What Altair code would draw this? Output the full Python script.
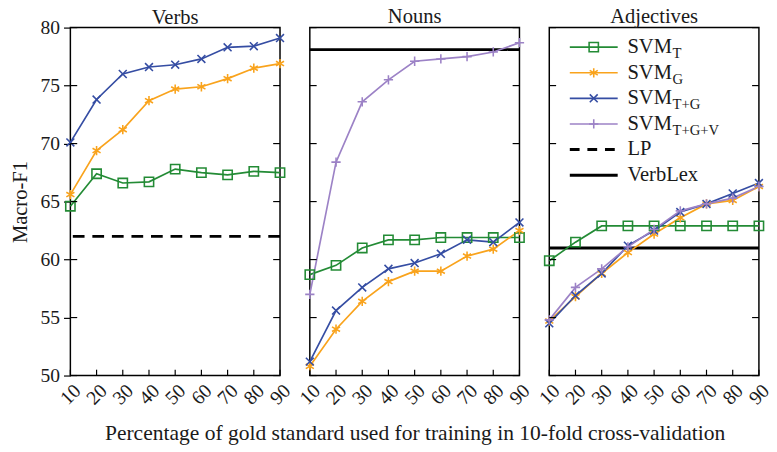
import altair as alt
import pandas as pd

# ---------------- data ----------------
x_pct = [10, 20, 30, 40, 50, 60, 70, 80, 90]
panels = ["Verbs", "Nouns", "Adjectives"]
series_names = ["SVM_T", "SVM_G", "SVM_T+G", "SVM_T+G+V"]

verbs_T = [64.6, 67.4, 66.6, 66.7, 67.8, 67.5, 67.3, 67.6, 67.5]
verbs_G = [65.6, 69.4, 71.2, 73.7, 74.7, 74.9, 75.6, 76.5, 76.9]
verbs_TG = [70.1, 73.8, 76.0, 76.6, 76.8, 77.3, 78.3, 78.4, 79.1]

nouns_T = [58.7, 59.5, 61.0, 61.7, 61.7, 61.9, 61.9, 61.9, 61.9]
nouns_G = [50.8, 54.0, 56.4, 58.1, 59.0, 59.0, 60.3, 60.9, 62.5]
nouns_TG = [51.2, 55.6, 57.6, 59.2, 59.7, 60.5, 61.7, 61.5, 63.2]
nouns_TGV = [57.0, 68.4, 73.6, 75.5, 77.1, 77.3, 77.5, 77.9, 78.7]

adj_T = [59.9, 61.5, 62.9, 62.9, 62.9, 62.9, 62.9, 62.9, 62.9]
adj_G = [54.7, 56.8, 58.8, 60.6, 62.2, 63.6, 64.8, 65.1, 66.3]
adj_TG = [54.5, 56.9, 58.8, 61.2, 62.5, 64.1, 64.8, 65.7, 66.6]
adj_TGV = [54.8, 57.6, 59.2, 61.1, 62.6, 64.2, 64.8, 65.3, 66.3]

lp_verbs = 62.0
verblex_nouns = 78.1
verblex_adj = 61.0

y_ticks = [50, 55, 60, 65, 70, 75, 80]

legend_base = ["SVM", "SVM", "SVM", "SVM", "LP", "VerbLex"]
legend_sub = ["T", "G", "T+G", "T+G+V", "", ""]

x_title = "Percentage of gold standard used for training in 10-fold cross-validation"
y_title = "Macro-F1"

# ---------------- tables ----------------
series_data = {
    "Verbs": {"SVM_T": verbs_T, "SVM_G": verbs_G, "SVM_T+G": verbs_TG},
    "Nouns": {"SVM_T": nouns_T, "SVM_G": nouns_G, "SVM_T+G": nouns_TG, "SVM_T+G+V": nouns_TGV},
    "Adjectives": {"SVM_T": adj_T, "SVM_G": adj_G, "SVM_T+G": adj_TG, "SVM_T+G+V": adj_TGV},
}
rows = []
for p, sd in series_data.items():
    for s, vals in sd.items():
        for xv, yv in zip(x_pct, vals):
            rows.append({"panel": p, "series": s, "x": xv, "y": yv})
df = pd.DataFrame(rows)

ref_rows = [
    {"panel": "Verbs", "kind": "LP", "y": lp_verbs},
    {"panel": "Nouns", "kind": "VerbLex", "y": verblex_nouns},
    {"panel": "Adjectives", "kind": "VerbLex", "y": verblex_adj},
]
ref_df = pd.DataFrame(ref_rows)
ytick_df = pd.DataFrame({"y": y_ticks})
xtick_df = pd.DataFrame({"x": x_pct})

# ---------------- style ----------------
W, H = 214.5, 356
FONT = "Liberation Serif"
TXT = "#1a1a1a"
colors = ["#238b35", "#f9a31c", "#354da3", "#9c82c6"]
shape_square = "square"
shape_aster = "M0,-1L0,1M-0.87,-0.5L0.87,0.5M-0.87,0.5L0.87,-0.5"
shape_x = "M-0.85,-0.85L0.85,0.85M-0.85,0.85L0.85,-0.85"
shape_plus = "M-1,0L1,0M0,-1L0,1"
shapes = [shape_square, shape_aster, shape_x, shape_plus]

xscale = alt.Scale(domain=[10, 90], nice=False, zero=False)
yscale = alt.Scale(domain=[50, 80], nice=False, zero=False)
dummy = alt.Data(values=[{"a": 1}])


def panel(name, first, middle, with_legend):
    xaxis_kw = dict(values=x_pct, labelAngle=-45, ticks=False, domain=False, grid=False,
                    labelOverlap=False, labelFlush=False, labelBound=False,
                    labelFont=FONT, labelFontSize=20, labelColor=TXT, labelPadding=5,
                    titleFont=FONT, titleFontSize=22, titleFontWeight="normal",
                    titleColor=TXT, titlePadding=15, title=(x_title if middle else ""))
    X = alt.X("x:Q", scale=xscale, axis=alt.Axis(**xaxis_kw))
    if first:
        Y = alt.Y("y:Q", scale=yscale,
                  axis=alt.Axis(values=y_ticks, ticks=True, tickSize=7, tickColor="black",
                                tickWidth=1.2, domain=False, grid=False,
                                labelOverlap=False, labelFlush=False, labelBound=False,
                                labelFont=FONT, labelFontSize=20, labelColor=TXT,
                                labelPadding=4, title=y_title, titleFont=FONT,
                                titleFontSize=21, titleFontWeight="normal",
                                titleColor=TXT, titlePadding=10))
    else:
        Y = alt.Y("y:Q", scale=yscale, axis=None)

    d = df[df.panel == name]
    color = alt.Color("series:N", scale=alt.Scale(domain=series_names, range=colors), legend=None)
    shape = alt.Shape("series:N", scale=alt.Scale(domain=series_names, range=shapes), legend=None)

    layers = []
    r = ref_df[ref_df.panel == name]
    for _, row in r.iterrows():
        dash = [12, 8] if row["kind"] == "LP" else [1, 0]
        layers.append(alt.Chart(pd.DataFrame([row])).mark_rule(
            color="black", strokeWidth=3, strokeDash=dash).encode(y=Y))

    layers.append(alt.Chart(d).mark_line(strokeWidth=1.7).encode(
        x=X, y=Y, color=color, order="x:Q"))
    layers.append(alt.Chart(d).mark_point(filled=False, size=90, strokeWidth=1.6, opacity=1).encode(
        x=X, y=Y, color=color, shape=shape))

    # inward ticks
    layers.append(alt.Chart(ytick_df).mark_rule(color="black", strokeWidth=1.2).encode(
        y=Y, x=alt.value(0), x2=alt.value(7)))
    layers.append(alt.Chart(ytick_df).mark_rule(color="black", strokeWidth=1.2).encode(
        y=Y, x=alt.value(W - 7), x2=alt.value(W)))
    layers.append(alt.Chart(xtick_df).mark_rule(color="black", strokeWidth=1.2).encode(
        x=X, y=alt.value(H - 6), y2=alt.value(H)))

    if with_legend:
        step = 26.2
        y0 = 20
        for i, (base, sub) in enumerate(zip(legend_base, legend_sub)):
            ry = y0 + step * i
            if i < 4:
                layers.append(alt.Chart(dummy).mark_rule(color=colors[i], strokeWidth=1.7).encode(
                    x=alt.value(21), x2=alt.value(70), y=alt.value(ry)))
                layers.append(alt.Chart(dummy).mark_point(
                    shape=shapes[i], filled=False, size=90, strokeWidth=1.6,
                    color=colors[i], opacity=1).encode(x=alt.value(45.5), y=alt.value(ry)))
            else:
                dash = [10, 8] if base == "LP" else [1, 0]
                layers.append(alt.Chart(dummy).mark_rule(color="black", strokeWidth=3,
                                                         strokeDash=dash).encode(
                    x=alt.value(21), x2=alt.value(70), y=alt.value(ry)))
            layers.append(alt.Chart(dummy).mark_text(
                align="left", baseline="middle", font=FONT, fontSize=21, color=TXT).encode(
                x=alt.value(80), y=alt.value(ry), text=alt.value(base)))
            if sub:
                layers.append(alt.Chart(dummy).mark_text(
                    align="left", baseline="middle", font=FONT, fontSize=15, color=TXT).encode(
                    x=alt.value(80 + 46), y=alt.value(ry + 6), text=alt.value(sub)))

    return alt.layer(*layers).properties(
        width=W, height=H,
        view=alt.ViewBackground(stroke="black", strokeWidth=1.5),
        title=alt.TitleParams(text=name, font=FONT, fontSize=21, fontWeight="normal",
                              color=TXT, offset=0, dy=(10 if first else 0)))


chart = alt.hconcat(
    panel("Verbs", True, False, False),
    panel("Nouns", False, True, False),
    panel("Adjectives", False, False, True),
    spacing=30,
    bounds="flush",
).properties(
    padding={"left": 9, "top": 0, "right": 3, "bottom": 3},
    background="white",
).configure_view(
    stroke="black", strokeWidth=1.5
)

chart.save("out.html", embed_options={"renderer": "svg", "actions": False})
